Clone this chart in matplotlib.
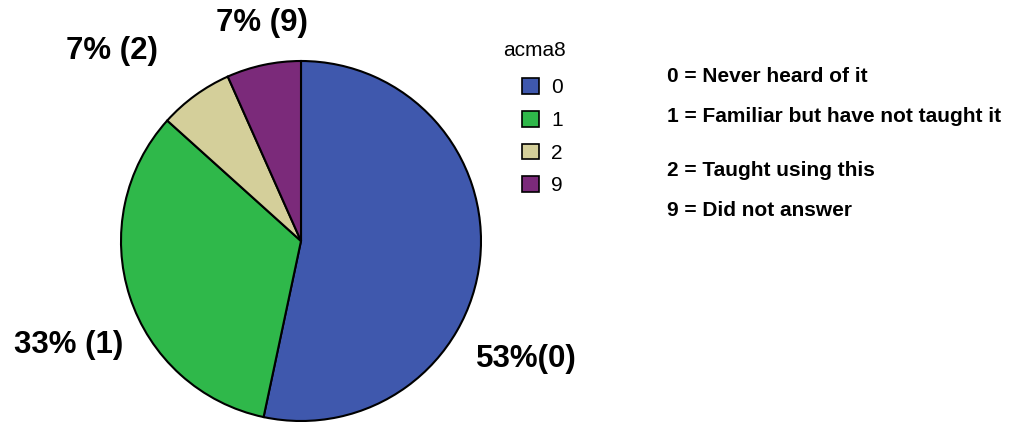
import matplotlib
matplotlib.use("Agg")
import matplotlib.pyplot as plt
from matplotlib.patches import Patch

plt.rcParams['font.family'] = ['Liberation Sans', 'DejaVu Sans']

# Response counts for acma8
categories = ['0', '1', '2', '9']
counts = [8, 5, 1, 1]
colors = ['#3f58ad', '#2fb84a', '#d4cf9a', '#7b2a7a']
slice_labels = ['53%(0)', '33% (1)', '7% (2)', '7% (9)']
code_notes = ['0 = Never heard of it', '1 = Familiar but have not taught it',
              '2 = Taught using this', '9 = Did not answer']

fig = plt.figure(figsize=(10.24, 4.25), dpi=100)
W, H = 1024, 425
cx, cy, r = 301, 241, 180
ax = fig.add_axes([(cx - r) / W, (H - cy - r) / H, 2 * r / W, 2 * r / H])
ax.pie(counts, colors=colors, startangle=90, counterclock=False,
       wedgeprops=dict(edgecolor='black', linewidth=1.5))
ax.set_xlim(-1, 1)
ax.set_ylim(-1, 1)
ax.set_aspect('equal')
ax.axis('off')

# Slice labels placed around the pie (figure pixel positions)
label_pos = [(526, 359), (69, 345), (112, 51), (262, 23)]
for text, (x, y) in zip(slice_labels, label_pos):
    fig.text(x / W, 1 - y / H, text, ha='center', va='center',
             fontsize=22.5, fontweight='bold')

# Legend with its heading
fig.text(503 / W, 1 - 51 / H, 'acma8', ha='left', va='center', fontsize=15)
handles = [Patch(facecolor=c, edgecolor='black', linewidth=1.2) for c in colors]
fig.legend(handles, categories, loc='upper left',
           bbox_to_anchor=(522 / W, 1 - 78 / H), frameon=False,
           fontsize=15, handlelength=0.8, handleheight=0.8,
           handletextpad=0.6, labelspacing=0.65,
           borderpad=0, borderaxespad=0)

note_y = [76, 117, 171, 211]
for text, y in zip(code_notes, note_y):
    fig.text(667 / W, 1 - y / H, text, ha='left', va='center',
             fontsize=15, fontweight='bold')

fig.savefig('out.png', dpi=100)
